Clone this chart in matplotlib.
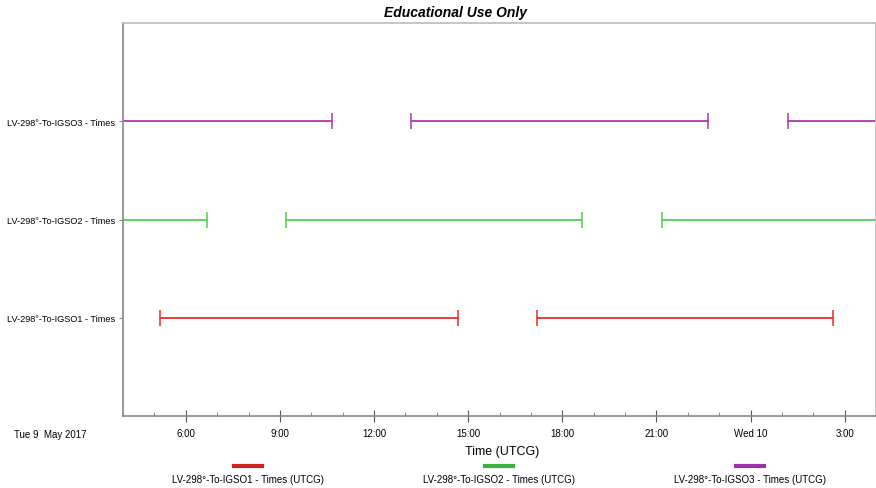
import matplotlib.pyplot as plt
import matplotlib.dates as mdates
import pandas as pd

plt.rcParams['font.family'] = ['Liberation Sans', 'DejaVu Sans']

# Access intervals per object (UTCG)
object_names = ['LV-298°-To-IGSO1 - Times',
                'LV-298°-To-IGSO2 - Times',
                'LV-298°-To-IGSO3 - Times']

igso1_starts = ['2017-05-09 05:11', '2017-05-09 17:11']
igso1_stops = ['2017-05-09 14:40', '2017-05-10 02:38']

igso2_starts = ['2017-05-09 00:10', '2017-05-09 09:11', '2017-05-09 21:10']
igso2_stops = ['2017-05-09 06:40', '2017-05-09 18:37', '2017-05-10 06:10']

igso3_starts = ['2017-05-09 01:40', '2017-05-09 13:10', '2017-05-10 01:11']
igso3_stops = ['2017-05-09 10:40', '2017-05-09 22:38', '2017-05-10 10:10']

line_colors = ['#ee3b3b', '#5fd35f', '#b444b4']
legend_colors = ['#cc2222', '#3cb043', '#a030a8']

fig = plt.figure(figsize=(8.76, 4.89), dpi=100)
ax = fig.add_axes([123 / 876, 72 / 489, 753 / 876, 393 / 489])

intervals = [(igso1_starts, igso1_stops),
             (igso2_starts, igso2_stops),
             (igso3_starts, igso3_stops)]

for level, ((starts, stops), color) in enumerate(zip(intervals, line_colors), start=1):
    for s, e in zip(pd.to_datetime(starts), pd.to_datetime(stops)):
        ax.plot([s, e], [level, level], color=color, lw=1.4,
                marker='|', markersize=11, markeredgewidth=1.2)

ax.set_xlim(pd.Timestamp('2017-05-09 04:00'), pd.Timestamp('2017-05-10 04:00'))
ax.set_ylim(0, 4)

ax.set_yticks([1, 2, 3])
ax.set_yticklabels(object_names, fontsize=6.6)
ax.tick_params(axis='y', length=3, color='#888888', pad=3)


def fmt_time(x, pos=None):
    t = mdates.num2date(x)
    if t.hour == 0:
        return t.strftime('%a ') + str(t.day)
    return f'{t.hour}:00'


ax.xaxis.set_major_locator(mdates.HourLocator(byhour=[0, 3, 6, 9, 12, 15, 18, 21]))
ax.xaxis.set_minor_locator(mdates.HourLocator())
ax.xaxis.set_major_formatter(plt.FuncFormatter(fmt_time))
ax.tick_params(axis='x', which='major', direction='inout', length=9,
               color='#555555', labelsize=7, pad=4)
ax.tick_params(axis='x', which='minor', direction='in', length=3, color='#777777')

for side in ['left', 'bottom']:
    ax.spines[side].set_color('#888888')
    ax.spines[side].set_linewidth(1.2)
for side in ['top', 'right']:
    ax.spines[side].set_color('#bbbbbb')
    ax.spines[side].set_linewidth(1.2)

fig.text(456 / 876, 1 - 13 / 489, 'Educational Use Only', ha='center', va='center',
         fontsize=10, fontweight='bold', fontstyle='italic')
fig.text(50 / 876, 1 - 435 / 489, 'Tue 9  May 2017', ha='center', va='center', fontsize=7)
fig.text(502 / 876, 1 - 452 / 489, 'Time (UTCG)', ha='center', va='center', fontsize=9)

# legend row under the axis
legend_x = [248, 499, 750]
for name, color, x in zip(object_names, legend_colors, legend_x):
    fig.add_artist(plt.Line2D([(x - 14) / 876, (x + 14) / 876], [1 - 467 / 489] * 2,
                              color=color, lw=3))
    fig.text(x / 876, 1 - 480 / 489, name + ' (UTCG)', ha='center', va='center', fontsize=7)

fig.savefig('out.png', dpi=100)
